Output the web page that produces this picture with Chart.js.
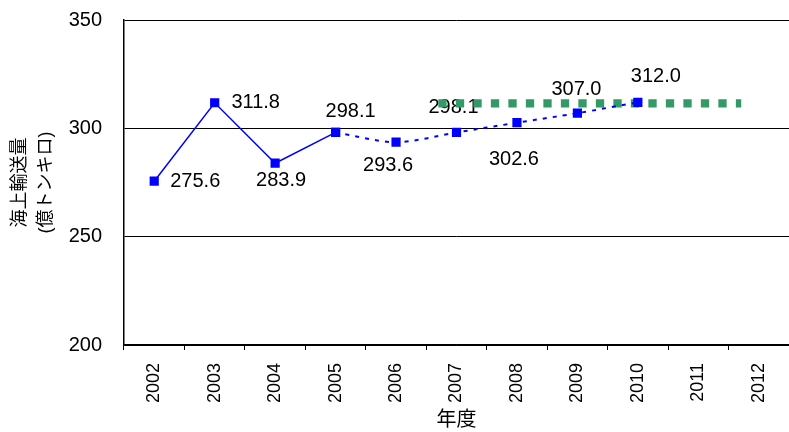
<!DOCTYPE html>
<html>
<head>
<meta charset="utf-8">
<script src="https://cdn.jsdelivr.net/npm/chart.js@4.4.1/dist/chart.umd.min.js"></script>
<style>
html, body { margin: 0; padding: 0; background: #fff; }
#wrap { width: 789px; height: 432px; }
</style>
</head>
<body>
<div id="wrap"><canvas id="kaijo"></canvas></div>
<script>
var years = ['2002', '2003', '2004', '2005', '2006', '2007', '2008', '2009', '2010', '2011', '2012'];
var yuso = [275.6, 311.8, 283.9, 298.1, 293.6, 298.1, 302.6, 307.0, 312.0];
var jissekiLast = 3; // 2005年度までが実績、以降は見通し
var mokuhyo = 311.5;
var mokuhyoX = [2006.70, 2011.71];
var yTicks = [200, 250, 300, 350];

var fontFamily = "'Liberation Sans', Arial, 'Noto Sans CJK JP', sans-serif";

var jisseki = yuso.map(function (v, i) { return i <= jissekiLast ? v : null; });
var mitoshi = yuso.map(function (v, i) { return i >= jissekiLast ? v : null; });
var mokuhyoLine = mokuhyoX.map(function (x) { return { x: x, y: mokuhyo }; });

// ラベルの位置 (点からのずれ)
var labelOffsets = [[41, 0], [41, 0], [6, 17], [15, -21], [-8, 23], [-3, -25], [-3, 37], [-1, -24], [18, -26]];

var valueLabels = {
    id: 'valueLabels',
    beforeDatasetsDraw: function (chart) {
        var ctx = chart.ctx;
        var xs = chart.scales.x;
        var ys = chart.scales.y;
        ctx.save();
        ctx.font = '20px ' + fontFamily;
        ctx.fillStyle = '#000';
        ctx.textAlign = 'center';
        ctx.textBaseline = 'middle';
        yuso.forEach(function (v, i) {
            var px = xs.getPixelForValue(i);
            var py = ys.getPixelForValue(v);
            ctx.fillText(v.toFixed(1), px + labelOffsets[i][0], py + labelOffsets[i][1]);
        });
        ctx.restore();
    }
};

new Chart(document.getElementById('kaijo'), {
    type: 'line',
    data: {
        labels: years,
        datasets: [{
            label: '実績',
            data: jisseki,
            borderColor: '#0000ff',
            backgroundColor: '#0000ff',
            borderWidth: 1.5,
            tension: 0,
            pointStyle: 'rect',
            pointRadius: 6.5,
            pointBorderWidth: 0,
            order: 1
        }, {
            label: '見通し',
            data: mitoshi,
            borderColor: '#0000ff',
            backgroundColor: '#0000ff',
            borderWidth: 2,
            borderDash: [4, 6],
            tension: 0.3,
            pointStyle: 'rect',
            pointRadius: 6.5,
            pointBorderWidth: 0,
            order: 1
        }, {
            label: '目標',
            data: mokuhyoLine,
            xAxisID: 'x2',
            borderColor: '#339966',
            borderWidth: 8.3,
            borderDash: [8.3, 9.2],
            borderCapStyle: 'butt',
            pointRadius: 0,
            order: 2
        }]
    },
    options: {
        responsive: true,
        maintainAspectRatio: false,
        animation: false,
        devicePixelRatio: 1,
        layout: {
            autoPadding: false,
            padding: { left: 0, right: -4, top: 20, bottom: 0 }
        },
        plugins: {
            legend: { display: false },
            tooltip: { enabled: false }
        },
        scales: {
            x: {
                type: 'category',
                offset: true,
                grid: {
                    offset: true,
                    drawOnChartArea: false,
                    drawTicks: true,
                    tickLength: 5,
                    color: '#000',
                    lineWidth: 1
                },
                border: { display: true, color: '#000', width: 1.5 },
                ticks: {
                    color: '#000',
                    font: { family: fontFamily, size: 18 },
                    minRotation: 90,
                    maxRotation: 90,
                    padding: 13,
                    autoSkip: false
                },
                title: {
                    display: true,
                    text: '年度',
                    color: '#000',
                    font: { family: fontFamily, size: 20 },
                    padding: { top: 4, bottom: 0 }
                },
                afterFit: function (scale) {
                    scale.height = 87;
                    scale.paddingLeft = 0;
                    scale.paddingRight = 0;
                }
            },
            x2: {
                type: 'linear',
                display: false,
                min: 2001.5,
                max: 2012.5
            },
            y: {
                min: yTicks[0],
                max: yTicks[yTicks.length - 1],
                afterBuildTicks: function (scale) {
                    scale.ticks = yTicks.map(function (v) { return { value: v }; });
                },
                grid: {
                    color: '#000',
                    lineWidth: 1,
                    drawTicks: false
                },
                border: { display: true, color: '#000', width: 1.5 },
                ticks: {
                    color: '#000',
                    font: { family: fontFamily, size: 20 },
                    padding: 22
                },
                title: {
                    display: true,
                    text: ['海上輸送量', '(億トンキロ)'],
                    color: '#000',
                    font: { family: fontFamily, size: 18, lineHeight: 1.45 },
                    padding: { top: 7, bottom: 0 }
                },
                afterFit: function (scale) {
                    scale.width = 124;
                    scale.paddingTop = 0;
                    scale.paddingBottom = 0;
                }
            }
        }
    },
    plugins: [valueLabels]
});
</script>
</body>
</html>
